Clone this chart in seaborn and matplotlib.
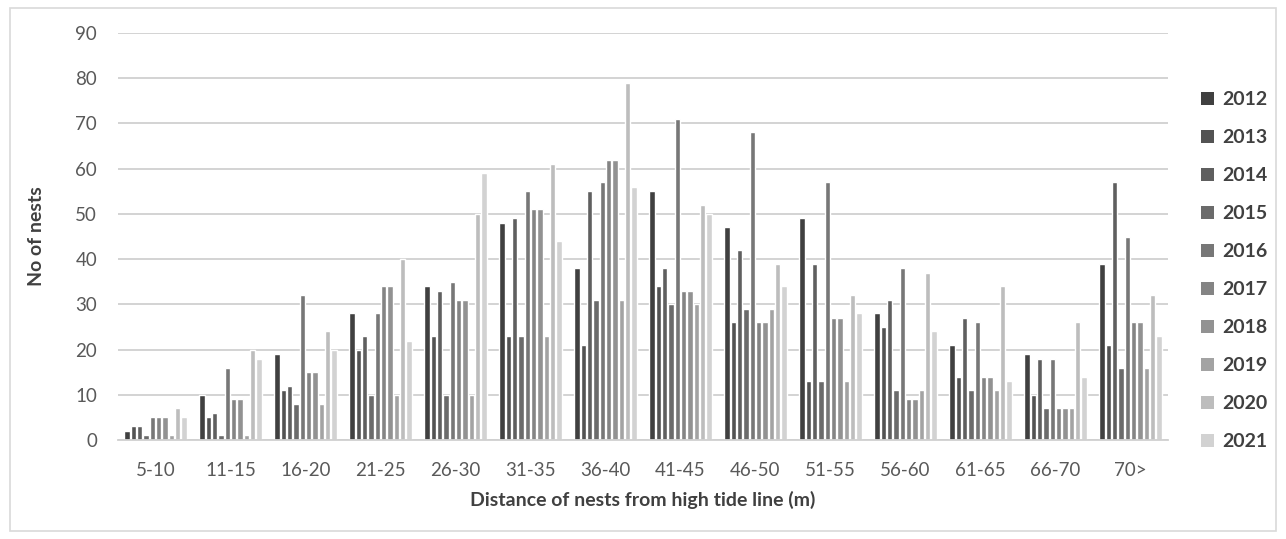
import numpy as np
import pandas as pd
import seaborn as sns
import matplotlib.pyplot as plt
from matplotlib.patches import Patch, Rectangle

# Distance classes from the high tide line (m)
distances = ["5-10", "11-15", "16-20", "21-25", "26-30", "31-35", "36-40",
             "41-45", "46-50", "51-55", "56-60", "61-65", "66-70", "70>"]
years = ["2012", "2013", "2014", "2015", "2016",
         "2017", "2018", "2019", "2020", "2021"]

# Number of nests per distance class, one list per season
n2012 = [2, 10, 19, 28, 34, 48, 38, 55, 47, 49, 28, 21, 19, 39]
n2013 = [3, 5, 11, 20, 23, 23, 21, 34, 26, 13, 25, 14, 10, 21]
n2014 = [3, 6, 12, 23, 33, 49, 55, 38, 42, 39, 31, 27, 18, 57]
n2015 = [1, 1, 8, 10, 10, 23, 31, 30, 29, 13, 11, 11, 7, 16]
n2016 = [5, 16, 32, 28, 35, 55, 57, 71, 68, 57, 38, 26, 18, 45]
n2017 = [5, 9, 15, 34, 31, 51, 62, 33, 26, 27, 9, 14, 7, 26]
n2018 = [5, 9, 15, 34, 31, 51, 62, 33, 26, 27, 9, 14, 7, 26]
n2019 = [1, 1, 8, 10, 10, 23, 31, 30, 29, 13, 11, 11, 7, 16]
n2020 = [7, 20, 24, 40, 50, 61, 79, 52, 39, 32, 37, 34, 26, 32]
n2021 = [5, 18, 20, 22, 59, 44, 56, 50, 34, 28, 24, 13, 14, 23]

series = [n2012, n2013, n2014, n2015, n2016, n2017, n2018, n2019, n2020, n2021]
shades = ["#404040", "#535353", "#5f5f5f", "#6b6b6b", "#777777",
          "#848484", "#929292", "#a3a3a3", "#bdbdbd", "#d2d2d2"]

df = pd.DataFrame({
    "distance": np.tile(distances, len(years)),
    "year": np.repeat(years, len(distances)),
    "nests": np.concatenate(series),
})

sns.set_theme(style="white")
plt.rcParams["font.family"] = ["Lato", "DejaVu Sans"]

W, H = 1286, 539
fig = plt.figure(figsize=(W / 100, H / 100), dpi=100)
fig.patch.set_facecolor("white")

# Thin frame around the whole chart
fig.patches.append(Rectangle((10 / W, 8 / H), 1 - 20 / W, 1 - 16 / H,
                             transform=fig.transFigure, fill=False,
                             edgecolor="#d9d9d9", linewidth=1.2))

ax = fig.add_axes([118 / W, 1 - 440 / H, 1050 / W, (440 - 33) / H])
sns.barplot(data=df, x="distance", y="nests", hue="year", order=distances,
            hue_order=years, palette=shades, width=0.84, gap=0.14,
            errorbar=None, legend=False, ax=ax, saturation=1)

ax.set_ylim(0, 90)
ax.set_xlim(-0.5, len(distances) - 0.5)
ax.set_yticks(range(0, 91, 10))
ax.yaxis.grid(True, color="#d0d0d0", linewidth=1.3)
ax.set_axisbelow(True)
for side in ("left", "right", "top"):
    ax.spines[side].set_visible(False)
ax.spines["bottom"].set_color("#d0d0d0")
ax.spines["bottom"].set_linewidth(1.3)

ax.tick_params(axis="y", length=0, pad=15, labelsize=13.5, labelcolor="#595959")
ax.tick_params(axis="x", which="major", length=0, pad=16, labelsize=13.5,
               labelcolor="#595959")
ax.set_xticks(np.arange(-0.5, len(distances)), minor=True)
ax.tick_params(axis="x", which="minor", length=6, width=1.2, color="#d0d0d0")

ax.set_ylabel("No of nests", fontsize=14, fontweight="bold", color="#404040")
ax.yaxis.set_label_coords(-73 / 1050, 0.5)
ax.set_xlabel("Distance of nests from high tide line (m)", fontsize=14,
              fontweight="bold", color="#404040")
ax.xaxis.label.set_va("center")
ax.xaxis.set_label_coords(0.5, -(500 - 440) / 407)

handles = [Patch(facecolor=c, edgecolor="none") for c in shades]
fig.legend(handles, years, loc="upper left",
           bbox_to_anchor=(1201 / W, 1 - 91 / H), frameon=False,
           borderaxespad=0, borderpad=0, handlelength=0.65, handleheight=0.65,
           handletextpad=0.45, labelspacing=1.08,
           prop={"size": 14, "weight": "bold"}, labelcolor="#404040")

fig.savefig("out.png", dpi=100)
